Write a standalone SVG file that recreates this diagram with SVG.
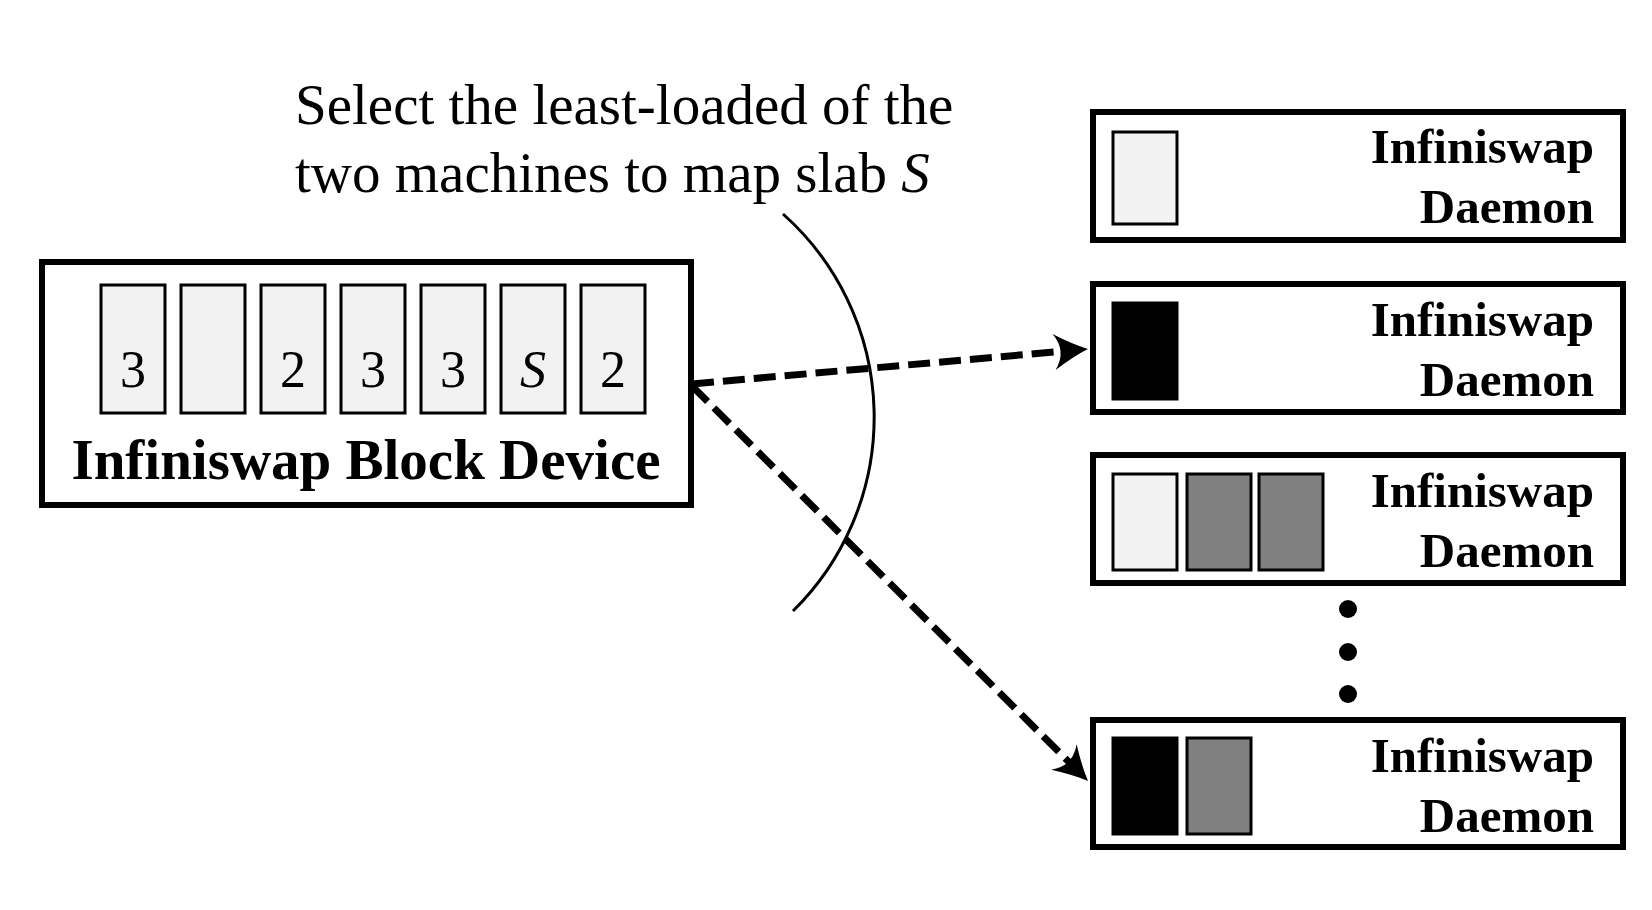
<svg xmlns="http://www.w3.org/2000/svg" width="1652" height="910" viewBox="0 0 1652 910">
<style>
.box{fill:#fff;stroke:#000;stroke-width:6}
.slab{stroke:#000;stroke-width:3}
.light{fill:#f2f2f2}
.gray{fill:#808080}
.black{fill:#000}
.num{font-family:"Liberation Serif",serif;font-size:52px;text-anchor:middle;fill:#000}
.lbl{font-family:"Liberation Serif",serif;font-weight:bold;fill:#000}
.cap{font-family:"Liberation Serif",serif;font-size:57px;fill:#000}
.conn{fill:none;stroke:#000;stroke-width:7;stroke-dasharray:22 9}
</style>
<defs>
<marker id="arr" markerUnits="userSpaceOnUse" viewBox="-36 -20 40 40" markerWidth="40" markerHeight="40" refX="-15" refY="0" orient="auto" overflow="visible">
<path d="M0,0 Q-15,-6 -34,-18 Q-21,0 -34,18 Q-15,6 0,0 Z" fill="#000"/>
</marker>
</defs>
<rect width="1652" height="910" fill="#fff"/>
<g id="caption">
<text class="cap" x="295" y="124">Select the least-loaded of the</text>
<text class="cap" x="295" y="192">two machines to map slab <tspan font-style="italic">S</tspan></text>
</g>
<g id="block-device">
<rect class="box" x="42" y="262" width="649" height="243"/>
<rect class="slab light" x="101" y="285" width="64" height="128"/>
<rect class="slab light" x="181" y="285" width="64" height="128"/>
<rect class="slab light" x="261" y="285" width="64" height="128"/>
<rect class="slab light" x="341" y="285" width="64" height="128"/>
<rect class="slab light" x="421" y="285" width="64" height="128"/>
<rect class="slab light" x="501" y="285" width="64" height="128"/>
<rect class="slab light" x="581" y="285" width="64" height="128"/>
<text class="num" x="133" y="387">3</text>
<text class="num" x="293" y="387">2</text>
<text class="num" x="373" y="387">3</text>
<text class="num" x="453" y="387">3</text>
<text class="num" x="533" y="387" font-style="italic">S</text>
<text class="num" x="613" y="387">2</text>
<text class="lbl" x="366" y="479" font-size="57" text-anchor="middle">Infiniswap Block Device</text>
</g>
<g id="daemon1">
<rect class="box" x="1093" y="112" width="530" height="128"/>
<rect class="slab light" x="1113" y="132" width="64" height="92"/>
<text class="lbl" x="1594" y="163" font-size="49" text-anchor="end">Infiniswap</text>
<text class="lbl" x="1594" y="223" font-size="49" text-anchor="end">Daemon</text>
</g>
<g id="daemon2">
<rect class="box" x="1093" y="284" width="530" height="128"/>
<rect class="slab black" x="1113" y="303" width="64" height="96"/>
<text class="lbl" x="1594" y="336" font-size="49" text-anchor="end">Infiniswap</text>
<text class="lbl" x="1594" y="396" font-size="49" text-anchor="end">Daemon</text>
</g>
<g id="daemon3">
<rect class="box" x="1093" y="455" width="530" height="128"/>
<rect class="slab light" x="1113" y="474" width="64" height="96"/>
<rect class="slab gray" x="1187" y="474" width="64" height="96"/>
<rect class="slab gray" x="1259" y="474" width="64" height="96"/>
<text class="lbl" x="1594" y="507" font-size="49" text-anchor="end">Infiniswap</text>
<text class="lbl" x="1594" y="567" font-size="49" text-anchor="end">Daemon</text>
</g>
<g id="dots">
<circle cx="1348" cy="609" r="9" fill="#000"/>
<circle cx="1348" cy="652" r="9" fill="#000"/>
<circle cx="1348" cy="694" r="9" fill="#000"/>
</g>
<g id="daemon4">
<rect class="box" x="1093" y="720" width="530" height="127"/>
<rect class="slab black" x="1113" y="738" width="64" height="96"/>
<rect class="slab gray" x="1187" y="738" width="64" height="96"/>
<text class="lbl" x="1594" y="772" font-size="49" text-anchor="end">Infiniswap</text>
<text class="lbl" x="1594" y="832" font-size="49" text-anchor="end">Daemon</text>
</g>
<g id="connectors">
<path d="M783,214 A272,272 0 0 1 793,611" fill="none" stroke="#000" stroke-width="3"/>
<line class="conn" x1="692" y1="384" x2="1073" y2="350.3" marker-end="url(#arr)"/>
<line class="conn" x1="692" y1="386" x2="1077.4" y2="770.4" marker-end="url(#arr)"/>
</g>
</svg>
